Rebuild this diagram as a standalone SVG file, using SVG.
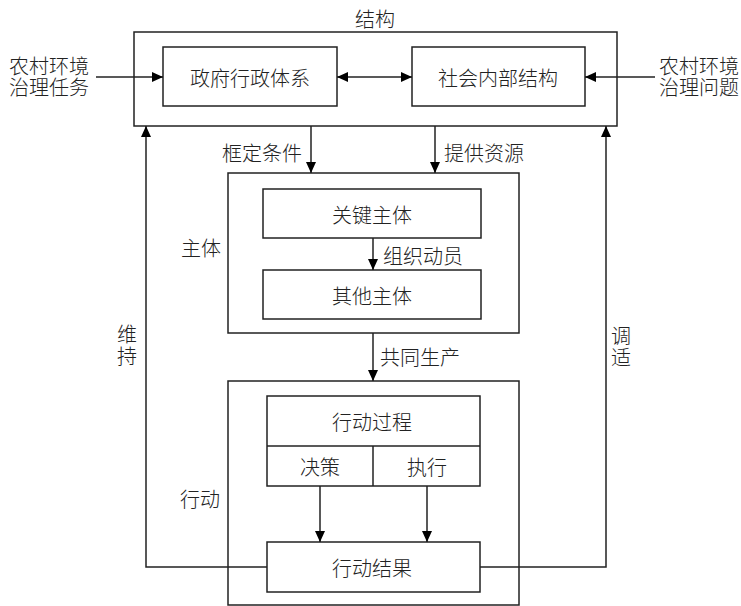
<svg xmlns="http://www.w3.org/2000/svg" width="741" height="606" viewBox="0 0 741 606">
<defs>
<marker id="ah" markerUnits="userSpaceOnUse" markerWidth="12" markerHeight="10" refX="11" refY="5" orient="auto-start-reverse"><path d="M0,0 L11,5 L0,10 Z" fill="#000"/></marker>
<style>
rect{fill:#fff;stroke:#222;stroke-width:1.5}
.c path,.c line{fill:none;stroke:#222;stroke-width:1.5}
text{font-family:"Noto Sans CJK SC","Noto Sans",sans-serif;font-size:20px;font-weight:300;fill:#222;text-anchor:middle;dominant-baseline:central}
</style>
</defs>
<rect width="741" height="606" style="stroke:none"/>
<g id="structure">
<rect x="134" y="32" width="483" height="94"/>
<text x="375" y="18">结构</text>
</g>
<g id="gov"><rect x="163" y="47" width="174" height="59"/><text x="250" y="77">政府行政体系</text></g>
<g id="society"><rect x="412" y="47" width="173" height="59"/><text x="498" y="77">社会内部结构</text></g>
<g id="task"><text x="49" y="65">农村环境<tspan x="49" dy="21">治理任务</tspan></text></g>
<g id="problem"><text x="699" y="65">农村环境<tspan x="699" dy="21">治理问题</tspan></text></g>
<g id="subject">
<rect x="228" y="173" width="291" height="160"/>
<text x="201" y="247">主体</text>
</g>
<g id="key"><rect x="263" y="189" width="218" height="49"/><text x="372" y="214">关键主体</text></g>
<g id="other"><rect x="263" y="270" width="218" height="49"/><text x="372" y="295">其他主体</text></g>
<g id="action">
<rect x="228" y="381" width="291" height="224"/>
<text x="200" y="498">行动</text>
</g>
<g id="process">
<rect x="267" y="396" width="213" height="90"/>
<line x1="267" y1="446" x2="480" y2="446" style="stroke:#222;stroke-width:1.5"/>
<line x1="373" y1="446" x2="373" y2="486" style="stroke:#222;stroke-width:1.5"/>
<text x="372" y="421">行动过程</text>
<text x="320" y="466">决策</text>
<text x="427" y="466">执行</text>
</g>
<g id="result"><rect x="267" y="542" width="213" height="50"/><text x="372" y="567">行动结果</text></g>
<g class="c" id="connectors">
<line x1="96" y1="77" x2="163" y2="77" marker-end="url(#ah)"/>
<line x1="655" y1="77" x2="585" y2="77" marker-end="url(#ah)"/>
<line x1="337" y1="77" x2="412" y2="77" marker-start="url(#ah)" marker-end="url(#ah)"/>
<line x1="311" y1="126" x2="311" y2="173" marker-end="url(#ah)"/>
<line x1="435" y1="126" x2="435" y2="173" marker-end="url(#ah)"/>
<line x1="373" y1="238" x2="373" y2="270" marker-end="url(#ah)"/>
<line x1="373" y1="333" x2="373" y2="381" marker-end="url(#ah)"/>
<line x1="320" y1="486" x2="320" y2="542" marker-end="url(#ah)"/>
<line x1="427" y1="486" x2="427" y2="542" marker-end="url(#ah)"/>
<path d="M267,567 H146 V126" marker-end="url(#ah)"/>
<path d="M480,567 H606 V126" marker-end="url(#ah)"/>
</g>
<g id="labels">
<text x="262" y="152">框定条件</text>
<text x="484" y="152">提供资源</text>
<text x="423" y="255">组织动员</text>
<text x="420" y="356">共同生产</text>
<text x="127" y="333">维<tspan x="127" dy="22">持</tspan></text>
<text x="621" y="335">调<tspan x="621" dy="21">适</tspan></text>
</g>
</svg>
